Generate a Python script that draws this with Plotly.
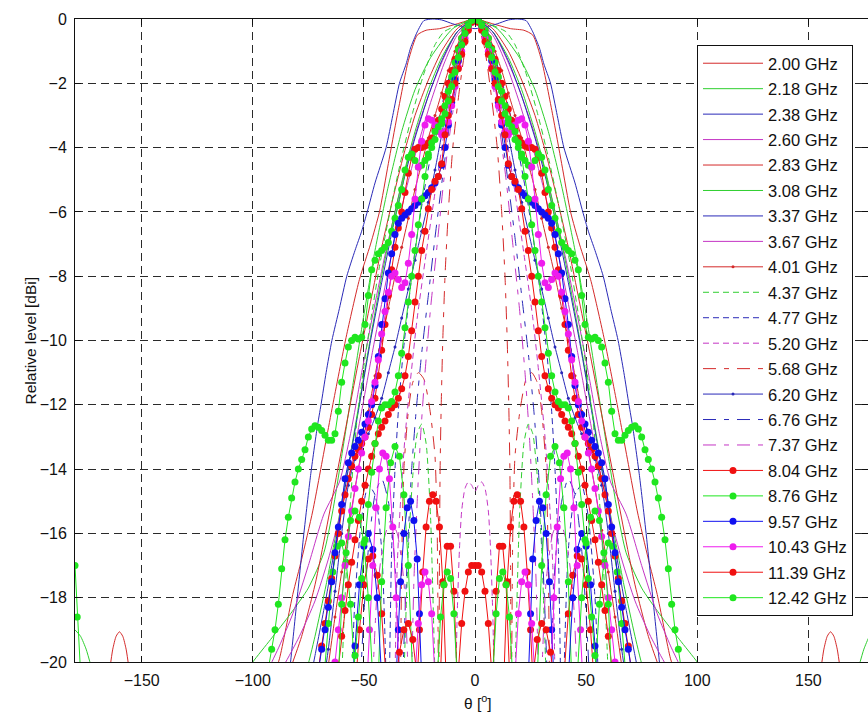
import plotly.graph_objects as go

# ---------------------------------------------------------------------------
# Normalised radiation patterns (relative level in dBi versus angle theta).
# The patterns are symmetric about boresight, so each curve is stored for
# theta >= 0 and mirrored when the traces are built.  None starts a new
# segment (a separate lobe).
# ---------------------------------------------------------------------------

FREQ_LABELS = ["2.00 GHz", "2.18 GHz", "2.38 GHz", "2.60 GHz", "2.83 GHz", "3.08 GHz",
               "3.37 GHz", "3.67 GHz", "4.01 GHz", "4.37 GHz", "4.77 GHz", "5.20 GHz",
               "5.68 GHz", "6.20 GHz", "6.76 GHz", "7.37 GHz", "8.04 GHz", "8.76 GHz",
               "9.57 GHz", "10.43 GHz", "11.39 GHz", "12.42 GHz"]

X_TICKS = [-150, -100, -50, 0, 50, 100, 150]
Y_TICKS = [-20, -18, -16, -14, -12, -10, -8, -6, -4, -2, 0]

# --- low band, solid lines -------------------------------------------------
ANG_200 = [0, 8, 16, 22, 26, 30, 35, 39, 43, 47, 52, 58, 64, 67, 73, 78, 82, 88, 91,
           None, 155.5, 157, 158.5, 160, 161.5, 163, 164.5]
LVL_200 = [0, -0.15, -0.3, -0.35, -0.5, -1.3, -3.0, -4.5, -6.0, -7.0, -8.1, -9.9, -12.0, -13.1,
           -15.3, -16.8, -17.9, -19.9, -20.5,
           None, -20.3, -19.6, -19.2, -19.06, -19.2, -19.6, -20.3]

ANG_218 = [0, 10, 20, 27, 33, 39, 45, 50, 55, 60, 64, 68, 75, 83, 92, 100, 104,
           None, 172.5, 175, 177.5, 180]
LVL_218 = [0, -0.3, -1.2, -2.2, -3.5, -5.2, -7.2, -9.2, -11.4, -13.6, -15.3, -16.6, -17.7,
           -18.5, -19.3, -20.0, -20.4,
           None, -20.2, -19.6, -19.2, -19.0]

ANG_238 = [0, 5, 10, 15, 19, 23, 26, 29, 31, 34, 37, 40, 45, 48.5, 51, 54, 57.7, 61, 64.4,
           67, 69.3, 71, 74, 77, 80, 83, 84]
LVL_238 = [-0.3, -0.25, -0.15, -0.03, 0, -0.05, -0.4, -0.9, -1.4, -2.0, -3.0, -4.0, -5.1, -6.0,
           -6.6, -7.2, -8.0, -9.0, -10.0, -11.0, -12.0, -12.7, -14.2, -16.0, -18.0, -20.0, -20.6]

ANG_260 = [0, 8, 14, 20, 26, 31, 36, 41, 46, 51, 56, 61, 68, 75, 82, 88, 92, 93]
LVL_260 = [0, -0.4, -1.2, -2.2, -3.4, -4.6, -6.0, -7.5, -9.2, -11.0, -12.9, -14.4, -15.4,
           -17.0, -18.5, -19.5, -20.1, -20.4]

ANG_283 = [0, 8, 15, 21, 27, 32, 37, 42, 47, 52, 57, 62, 67, 72, 78, 83, 85]
LVL_283 = [0, -0.3, -1.0, -1.9, -3.0, -4.2, -5.6, -7.1, -8.8, -10.5, -12.3, -14.1, -15.9,
           -17.6, -19.2, -20.2, -20.6]

ANG_308 = [0, 8, 15, 21, 27, 32, 37, 42, 47, 52, 57, 62, 67, 72, 76, 78]
LVL_308 = [0, -0.4, -1.2, -2.2, -3.5, -4.8, -6.3, -8.0, -9.9, -11.9, -13.9, -15.8, -17.6,
           -19.2, -20.3, -20.6]

ANG_337 = [0, 8, 15, 21, 27, 32, 37, 42, 47, 52, 57, 62, 67, 72, 74]
LVL_337 = [0, -0.4, -1.3, -2.4, -3.7, -5.0, -6.5, -8.2, -10.0, -12.0, -14.0, -16.0, -18.0,
           -19.8, -20.5]

ANG_367 = [0, 8, 14, 20, 26, 31, 36, 41, 46, 51, 56, 61, 66, 72, 79, 86, 90]
LVL_367 = [0, -0.5, -1.4, -2.6, -4.0, -5.3, -6.8, -8.5, -10.3, -12.2, -14.0, -15.5, -16.8,
           -18.1, -19.2, -20.1, -20.5]

ANG_401 = [0, 3, 6, 9, 12, 15, 18, 21, 24, 27, 30, 33, 36, 39, 42, 45, 48, 51, 54, 57, 60,
           63, 66]
LVL_401 = [0, -0.15, -0.5, -1.0, -1.6, -2.3, -3.0, -3.7, -4.5, -5.3, -6.2, -7.1, -8.0, -9.0,
           -10.0, -11.1, -12.2, -13.4, -14.6, -15.9, -17.2, -18.6, -20.1]

# --- mid band, dashed / dash-dot lines --------------------------------------
ANG_437 = [0, 8, 14, 18, 23, 28, 33, 38, 43, 47, 50, 53, 55, 57, 58.5, 60,
           None, 18, 20, 22, 24, 26, 28, 30, 32]
LVL_437 = [0, -0.2, -0.4, -0.8, -1.7, -2.9, -4.3, -5.9, -7.7, -9.4, -10.8, -12.4, -14.0,
           -16.0, -18.0, -20.5,
           None, -20.5, -15.5, -13.2, -12.6, -12.9, -14.2, -16.5, -20.5]

ANG_477 = [0, 6, 12, 18, 23, 27, 30, 32.5, 34.5, 36, 37.5, 38.5,
           None, 40, 42, 45, 48, 51, 54, 55.5]
LVL_477 = [0, -0.6, -1.9, -3.6, -5.4, -7.2, -8.9, -10.5, -12.2, -14.0, -16.5, -20.5,
           None, -20.5, -16.5, -14.8, -14.5, -15.5, -18.0, -20.5]

ANG_520 = [0, 5, 10, 14, 18, 22, 26, 29, 31.5, 33.5, 35, 36,
           None, 0, 1.5, 3, 4.5, 6, 7, 8, 8.6]
LVL_520 = [0, -0.6, -2.0, -3.6, -5.4, -7.3, -9.3, -11.2, -13.0, -15.0, -17.0, -20.5,
           None, -14.7, -14.5, -14.4, -14.6, -15.3, -16.5, -18.5, -20.5]

ANG_568 = [0, 4, 7, 10, 12, 13.5, 14.5, 15.2, 15.7, 16, 16.2,
           None, 16.5, 17, 18, 20.2, 23, 25.5, 28, 30, 32, 33, 33.5]
LVL_568 = [0, -0.8, -2.2, -4.0, -6.0, -8.0, -10.0, -12.0, -14.0, -17.0, -20.5,
           None, -20.5, -16.0, -13.6, -12.2, -11.2, -11.0, -11.3, -12.2, -14.0, -17.0, -20.5]

ANG_620 = [0, 3, 6, 9, 12, 15, 18, 21, 24, 27, 30, 33, 36, 39, 42, 45, 48, 51, 54, 57, 60,
           63, 66, 69]
LVL_620 = [0, -0.2, -0.7, -1.5, -2.5, -3.6, -4.7, -5.7, -6.6, -7.5, -8.4, -9.3, -10.2, -11.0,
           -11.8, -12.4, -12.9, -13.3, -13.7, -14.5, -16.0, -17.8, -19.6, -21.0]

ANG_676 = [0, 5, 10, 14, 18, 21, 24, 26.5, 28.5, 30, 31.5, 32.5,
           None, 34, 36, 39, 42, 45, 48, 50, 51.5]
LVL_676 = [0, -0.8, -2.6, -4.6, -6.8, -8.6, -10.4, -12.2, -14.0, -16.0, -18.5, -20.5,
           None, -20.5, -17.0, -15.0, -14.3, -14.8, -16.5, -18.5, -20.5]

ANG_737 = [0, 5, 10, 14, 17, 20, 22.5, 24.5, 26, 27.5, 28.5,
           None, 30, 32, 35, 38, 41, 44, 46]
LVL_737 = [0, -0.9, -2.9, -5.0, -7.0, -9.0, -11.0, -13.0, -15.0, -17.5, -20.5,
           None, -20.5, -17.5, -16.0, -15.6, -16.2, -17.8, -20.5]

# --- high band, measured every 1.5 degrees (drawn with filled dots) ---------
DOT_ANG = [0, 1.5, 3, 4.5, 6, 7.5, 9, 10.5, 12, 13.5, 15, 16.5, 18, 19.5, 21, 22.5, 24,
           25.5, 27, 28.5, 30, 31.5, 33, 34.5, 36, 37.5, 39, 40.5, 42, 43.5, 45, 46.5, 48,
           49.5, 51, 52.5, 54, 55.5, 57, 58.5, 60, 61.5, 63, 64.5, 66, 67.5, 69, 70.5, 72,
           73.5, 75, 76.5, 78, 79.5, 81, 82.5, 84, 85.5, 87, 88.5, 90, 91.5, 93, 94.5, 96]

LVL_804 = [0, -0.05, -0.15, -0.35, -0.6, -0.9, -1.25, -1.6, -2.0, -2.4, -2.8, -3.15, -3.45,
           -3.7, -3.85, -3.95, -4.0, -4.0, -4.05, -4.3, -4.8, -5.4, -6.0, -6.5, -7.1, -7.8,
           -8.6, -9.5, -10.3, -11.1, -11.8, -12.3, -12.7, -13.0, -13.2, -13.4, -13.6, -13.9,
           -14.3, -14.8, -15.3, -16.0, -16.7, -17.4, -18.1, -18.8, -19.5, -20.2, -21.0]
LOBE_ANG_804 = [13, 14.5, 16, 17.5, 19, 20.5, 22, 23.5, 25, 26,
                None, 40, 42, 44, 46, 48, 50, 52, 53.5]
LOBE_LVL_804 = [-20.5, -17.5, -15.8, -15.0, -14.8, -15.0, -15.8, -17.2, -19.0, -20.5,
                None, -20.5, -18.5, -17.3, -16.7, -16.8, -17.6, -19.0, -20.5]

LVL_876 = [0, -0.05, -0.15, -0.35, -0.6, -0.95, -1.35, -1.8, -2.25, -2.7, -3.1, -3.45,
           -3.75, -4.0, -4.2, -4.4, -4.55, -4.6, -4.4, -4.2, -4.3, -4.7, -5.3, -5.8, -6.2,
           -6.6, -6.95, -7.1, -7.2, -7.3, -7.5, -7.8, -8.6, -9.5, -9.9, -9.95, -9.9, -10.0,
           -10.2, -10.7, -11.3, -12.2, -12.9, -13.1, -13.1, -12.95, -12.8, -12.7, -12.65,
           -12.75, -13.0, -13.4, -13.7, -14.0, -14.4, -14.9, -15.5, -16.2, -17.1, -18.2,
           -19.0, -19.6, -20.2, -21.0]
LOBE_ANG_876 = [28, 30, 32, 34, 36, 38, 40, 42, 43.5,
                None, 54, 56, 58, 60, 62, 64, 66, 68]
LOBE_LVL_876 = [-20.5, -17.0, -14.8, -13.6, -13.3, -13.8, -15.2, -17.5, -20.5,
                None, -20.5, -18.2, -16.9, -16.3, -16.4, -17.2, -18.8, -20.5]

LVL_957 = [0, -0.05, -0.2, -0.45, -0.8, -1.3, -1.9, -2.6, -3.3, -4.0, -4.55, -4.9, -5.1,
           -5.25, -5.4, -5.5, -5.6, -5.7, -5.8, -5.9, -6.0, -6.1, -6.2, -6.35, -6.7, -7.3,
           -7.9, -8.7, -9.5, -10.5, -11.4, -12.0, -12.3, -12.6, -12.85, -13.1, -13.3, -13.5,
           -13.8, -14.3, -15.1, -15.8, -16.6, -17.5, -18.3, -19.0, -19.6, -20.3, -21.0]
LOBE_ANG_957 = [24, 25, 26, 27.5, 29, 30.5, 32, 33.5, 34.5, 35.5,
                None, 42, 44, 46, 48, 50, 52, 54, 55]
LOBE_LVL_957 = [-20.5, -18.5, -16.8, -15.6, -15.0, -15.2, -16.0, -17.5, -19.0, -20.5,
                None, -20.5, -18.0, -16.5, -16.0, -16.4, -17.6, -19.5, -20.5]

LVL_1043 = [0, -0.1, -0.3, -0.6, -1.0, -1.5, -2.1, -2.7, -3.2, -3.5, -3.6, -3.5, -3.3,
            -3.15, -3.1, -3.3, -3.8, -4.6, -5.6, -6.7, -7.6, -8.2, -8.35, -8.1, -7.9, -8.0,
            -8.5, -9.1, -9.8, -10.6, -11.3, -11.9, -12.5, -13.0, -13.5, -14.0, -14.6, -15.3,
            -16.1, -17.0, -18.0, -19.0, -20.0, -21.0]
LOBE_ANG_1043 = [34, 35.5, 37, 38.5, 40, 41.5, 43, 44.5, 46, 47.5, 48.5,
                 None, 18, 19.5, 21, 22.5, 24, 25.5, 27]
LOBE_LVL_1043 = [-20.5, -18.0, -15.8, -14.3, -13.6, -13.5, -14.0, -15.2, -17.0, -19.0, -20.5,
                 None, -20.5, -18.5, -17.5, -17.2, -17.6, -18.8, -20.5]

LVL_1139 = [0, -0.1, -0.35, -0.7, -1.1, -1.55, -2.0, -2.5, -3.0, -3.6, -4.5, -4.9, -5.05,
            -5.3, -5.9, -6.6, -7.2, -8.0, -8.8, -9.7, -10.5, -11.1, -11.5, -11.8, -12.0,
            -12.1, -12.3, -12.5, -12.7, -12.9, -13.2, -13.6, -14.0, -14.5, -15.0, -15.6,
            -16.2, -16.9, -17.6, -18.4, -19.2, -20.1, -21.0]
LOBE_ANG_1139 = [0, 1.5, 3, 4.5, 6, 7.5,
                 None, 8, 9.5, 11, 12.5, 14, 15.5,
                 None, 26, 28, 30, 32, 34, 35.5]
LOBE_LVL_1139 = [-17.0, -17.0, -17.2, -17.8, -18.8, -20.3,
                 None, -20.5, -17.8, -16.4, -16.4, -17.6, -20.3,
                 None, -20.5, -19.3, -18.8, -19.0, -19.7, -20.5]

LVL_1242 = [0, -0.05, -0.2, -0.45, -0.8, -1.2, -1.65, -2.1, -2.55, -2.95, -3.25, -3.35,
            -3.5, -3.85, -4.3, -4.9, -5.6, -6.4, -7.2, -8.0, -8.8, -9.6, -10.4, -11.1, -11.6,
            -11.9, -12.0, -12.0, -12.1, -12.5, -13.2, -14.1, -15.1, -16.2, -17.4, -18.6,
            -19.8, -21.0]
LOBE_ANG_1242 = [8, 9.5, 11, 12.5, 14, 15.5, 17,
                 None, 46, 48, 50, 52, 54, 56, 58, 60, 61.5,
                 None, 177, 179, 180]
LOBE_LVL_1242 = [-20.5, -18.5, -17.4, -17.2, -17.6, -18.6, -20.5,
                 None, -20.5, -18.0, -16.3, -15.5, -15.3, -15.6, -16.6, -18.2, -20.5,
                 None, -21.0, -18.6, -17.0]

# ---------------------------------------------------------------------------
RED_T, GREEN_T, BLUE_T, MAG_T = "#d42a2a", "#2fcf2f", "#2a2ab8", "#c435c4"
RED, GREEN, BLUE, MAG = "#f01010", "#1fe61f", "#1010f0", "#ee1cee"
DASH = "6px,4px"
DASHDOT = "13px,8px,5px,8px"


def split_segments(ang, lvl):
    segs, a_cur, l_cur = [], [], []
    for a, v in zip(ang, lvl):
        if a is None:
            if a_cur:
                segs.append((a_cur, l_cur))
            a_cur, l_cur = [], []
        else:
            a_cur.append(a)
            l_cur.append(v)
    if a_cur:
        segs.append((a_cur, l_cur))
    return segs


def mirrored(ang, lvl):
    """Reflect each half-pattern segment about theta = 0."""
    xs, ys = [], []
    for a, v in split_segments(ang, lvl):
        if a[0] == 0:
            xs += [-t for t in reversed(a[1:])] + a + [None]
            ys += list(reversed(v[1:])) + v + [None]
        else:
            xs += [-t for t in reversed(a)] + [None] + a + [None]
            ys += list(reversed(v)) + [None] + v + [None]
    return xs, ys


def dotted(lvl, lobe_ang, lobe_lvl):
    ang = DOT_ANG[:len(lvl)] + [None] + lobe_ang
    return mirrored(ang, list(lvl) + [None] + lobe_lvl)


series = [
    (mirrored(ANG_200, LVL_200), dict(color=RED_T), None),
    (mirrored(ANG_218, LVL_218), dict(color=GREEN_T), None),
    (mirrored(ANG_238, LVL_238), dict(color=BLUE_T), None),
    (mirrored(ANG_260, LVL_260), dict(color=MAG_T), None),
    (mirrored(ANG_283, LVL_283), dict(color=RED_T), None),
    (mirrored(ANG_308, LVL_308), dict(color=GREEN_T), None),
    (mirrored(ANG_337, LVL_337), dict(color=BLUE_T), None),
    (mirrored(ANG_367, LVL_367), dict(color=MAG_T), None),
    (mirrored(ANG_401, LVL_401), dict(color=RED_T), 3),
    (mirrored(ANG_437, LVL_437), dict(color=GREEN_T, dash=DASH), None),
    (mirrored(ANG_477, LVL_477), dict(color=BLUE_T, dash=DASH), None),
    (mirrored(ANG_520, LVL_520), dict(color=MAG_T, dash=DASH), None),
    (mirrored(ANG_568, LVL_568), dict(color=RED_T, dash=DASHDOT), None),
    (mirrored(ANG_620, LVL_620), dict(color=BLUE_T), 3),
    (mirrored(ANG_676, LVL_676), dict(color=BLUE_T, dash=DASHDOT), None),
    (mirrored(ANG_737, LVL_737), dict(color=MAG_T, dash=DASHDOT), None),
    (dotted(LVL_804, LOBE_ANG_804, LOBE_LVL_804), dict(color=RED), 7),
    (dotted(LVL_876, LOBE_ANG_876, LOBE_LVL_876), dict(color=GREEN), 7),
    (dotted(LVL_957, LOBE_ANG_957, LOBE_LVL_957), dict(color=BLUE), 7),
    (dotted(LVL_1043, LOBE_ANG_1043, LOBE_LVL_1043), dict(color=MAG), 7),
    (dotted(LVL_1139, LOBE_ANG_1139, LOBE_LVL_1139), dict(color=RED), 7),
    (dotted(LVL_1242, LOBE_ANG_1242, LOBE_LVL_1242), dict(color=GREEN), 7),
]

fig = go.Figure()
for i, ((xs, ys), line, msize) in enumerate(series):
    big = msize is not None and msize > 5
    line_kw = dict(width=1, **line)
    if not big:
        line_kw["shape"] = "spline"
        line_kw["smoothing"] = 0.6
    kw = dict(x=xs, y=ys, name=FREQ_LABELS[i], legendgroup=str(i), line=line_kw,
              mode="lines+markers" if msize else "lines")
    if msize:
        kw["marker"] = dict(size=msize, color=line["color"], line=dict(width=0))
    fig.add_trace(go.Scatter(**kw))

axis_common = dict(
    showgrid=True, gridcolor="#2a2a2a", gridwidth=1, griddash="8px,5px",
    zeroline=False, showline=True, linecolor="#111", linewidth=1,
    ticks="inside", ticklen=6, tickcolor="#111", mirror="ticks",
    tickfont=dict(size=16, color="#111"),
)

fig.update_layout(
    width=868, height=718,
    margin=dict(l=75, r=0, t=19, b=56),
    paper_bgcolor="white", plot_bgcolor="white",
    font=dict(family="Liberation Sans, Arial, sans-serif", size=15, color="#111"),
    xaxis=dict(range=[-180, 176.85], tickvals=X_TICKS, ticklabelstandoff=4, **axis_common),
    yaxis=dict(range=[-20, 0], tickvals=Y_TICKS, ticklabelstandoff=4, **axis_common),
    showlegend=True,
    legend=dict(
        x=(697 - 75) / 793, y=1 - (45 - 19) / 643, xanchor="left", yanchor="top",
        bgcolor="white", bordercolor="#111", borderwidth=1, itemwidth=60,
        font=dict(size=16.5, color="#111"), traceorder="grouped", tracegroupgap=1,
    ),
    annotations=[
        dict(text="Relative level [dBi]", xref="paper", yref="paper",
             x=(30 - 75) / 793, y=0.5, textangle=-90, showarrow=False,
             xanchor="center", yanchor="middle", font=dict(size=15.5, color="#111")),
        dict(text="θ [<sup>o</sup>]", xref="paper", yref="paper",
             x=(478 - 75) / 793, y=(662 - 702) / 643, showarrow=False,
             xanchor="center", yanchor="middle", font=dict(size=15.5, color="#111")),
    ],
)

fig.write_html("out.html")
